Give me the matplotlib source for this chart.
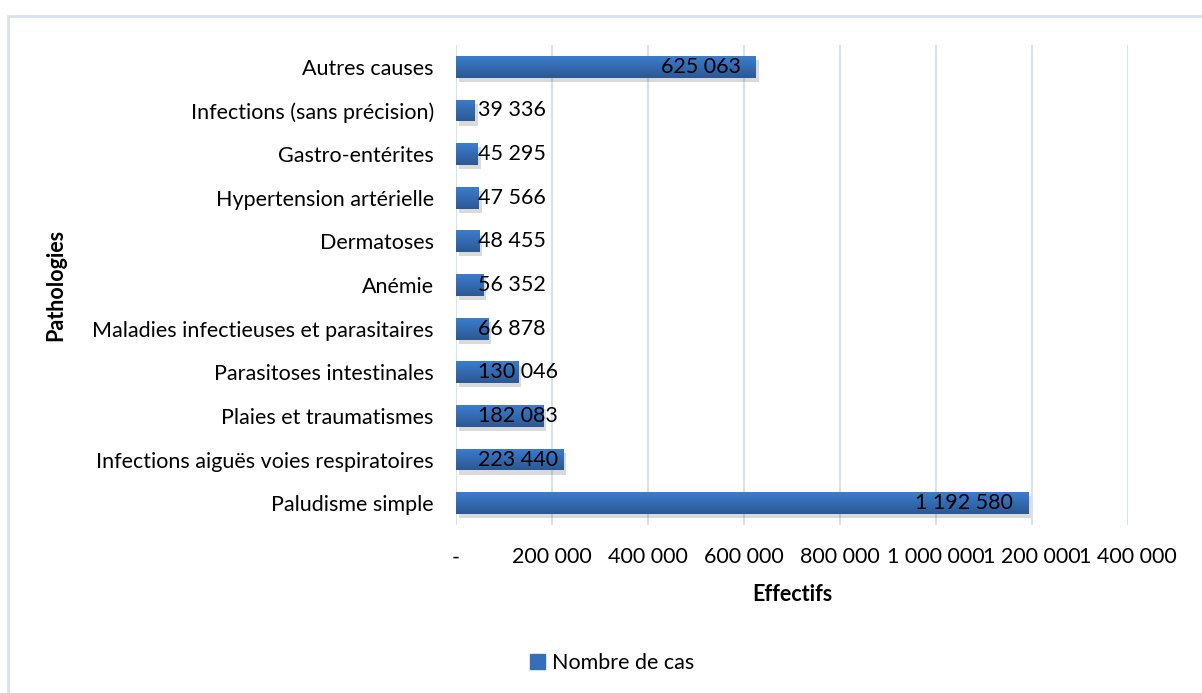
import matplotlib
matplotlib.use("Agg")
import matplotlib.pyplot as plt
import matplotlib.patheffects as pe
from matplotlib.patches import Rectangle, Patch
from matplotlib.colors import LinearSegmentedColormap
from matplotlib.ticker import FuncFormatter
import numpy as np

pathologies = [
    "Paludisme simple",
    "Infections aiguës voies respiratoires",
    "Plaies et traumatismes",
    "Parasitoses intestinales",
    "Maladies infectieuses et parasitaires",
    "Anémie",
    "Dermatoses",
    "Hypertension artérielle",
    "Gastro-entérites",
    "Infections (sans précision)",
    "Autres causes",
]
cas = [1192580, 223440, 182083, 130046, 66878, 56352, 48455, 47566, 45295, 39336, 625063]
xticks = [0, 200000, 400000, 600000, 800000, 1000000, 1200000, 1400000]

plt.rcParams["font.family"] = ["Lato", "DejaVu Sans"]
plt.rcParams["font.size"] = 15.5


def fmt(v):
    return f"{int(v):,}".replace(",", " ")


fig = plt.figure(figsize=(12.02, 6.93), dpi=100)
ax = fig.add_axes([0.3794, 0.2424, 0.5590, 0.6926])

# outer frame of the chart area
fig.patches.append(Rectangle((8 / 1202, -0.1), 1.2, 1.1 - 16 / 693,
                             transform=fig.transFigure, fill=False,
                             edgecolor="#D6E2F1", linewidth=2))

grad = LinearSegmentedColormap.from_list("bar", ["#2C5894", "#3B7DCC"])

y = np.arange(len(pathologies))
bars = ax.barh(y, cas, height=0.5, color="#3470BA", zorder=3,
               path_effects=[pe.SimplePatchShadow(offset=(2, -3), alpha=0.18, shadow_rgbFace="#333333"),
                             pe.Normal()])

# vertical gradient on each bar
g = np.linspace(0, 1, 64).reshape(-1, 1)
for p in bars:
    x0, y0 = p.get_x(), p.get_y()
    im = ax.imshow(g, cmap=grad, aspect="auto", origin="lower", zorder=4,
                   extent=[x0, x0 + p.get_width(), y0, y0 + p.get_height()])
    im.set_clip_path(p)

for yi, v in zip(y, cas):
    if v > 500000:
        ax.annotate(fmt(v), (v, yi), xytext=(-11, 0), textcoords="offset points",
                    ha="right", va="center", zorder=5)
    else:
        ax.annotate(fmt(v), (0, yi), xytext=(16, 0), textcoords="offset points",
                    ha="left", va="center", zorder=5)

ax.set_xlim(0, 1400000)
ax.set_ylim(-0.5, len(pathologies) - 0.5)
ax.set_xticks(xticks)
ax.xaxis.set_major_formatter(FuncFormatter(lambda v, p: "-" if v == 0 else fmt(v)))
ax.set_yticks(y)
ax.set_yticklabels(pathologies)
ax.tick_params(axis="both", length=0)
ax.tick_params(axis="y", pad=16)
ax.tick_params(axis="x", pad=16)
ax.grid(axis="x", color="#D6E2F1", linewidth=1.5, zorder=0)
for s in ax.spines.values():
    s.set_visible(False)

ax.set_xlabel("Effectifs", fontweight="bold", labelpad=12)
ax.set_ylabel("Pathologies", fontweight="bold")
ax.yaxis.set_label_coords(-(456 - 66) / 672, 0.5)

fig.legend(handles=[Patch(color="#3470BA")], labels=["Nombre de cas"], loc="center",
           bbox_to_anchor=(612 / 1202, 1 - 663 / 693), frameon=False,
           handlelength=0.7, handleheight=0.7, handletextpad=0.3)

fig.savefig("out.png", dpi=100)
